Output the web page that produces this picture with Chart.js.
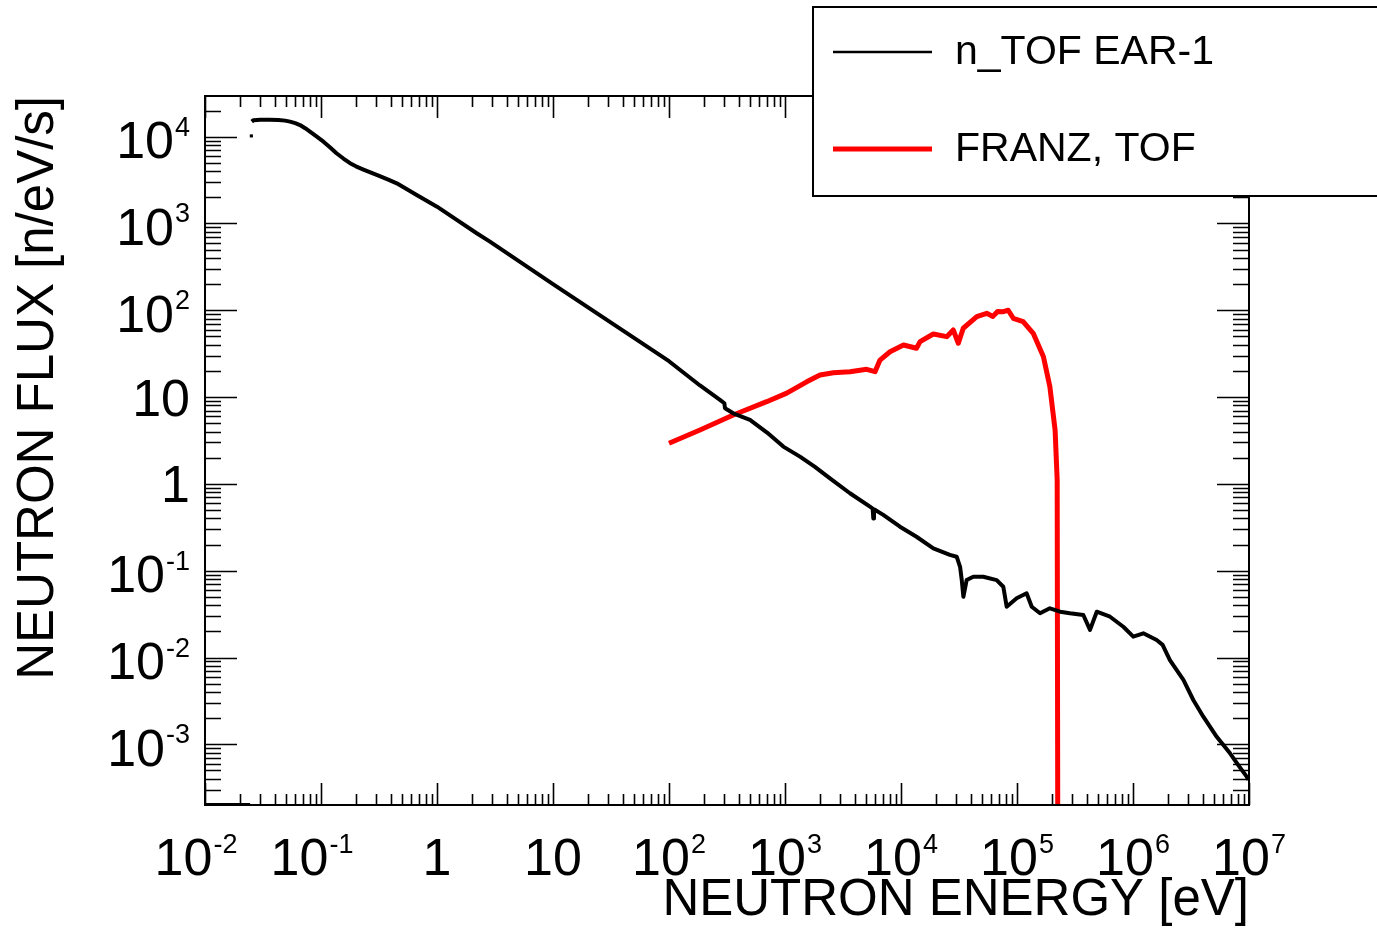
<!DOCTYPE html>
<html>
<head>
<meta charset="utf-8">
<script src="https://cdn.jsdelivr.net/npm/chart.js@4.4.1/dist/chart.umd.min.js"></script>
<style>
html,body{margin:0;padding:0;background:#fff;}
#wrap{width:1377px;height:932px;position:relative;}
</style>
</head>
<body>
<div id="wrap"><canvas id="c"></canvas></div>
<script>
// ---- data ----
const seriesNames = ['n_TOF EAR-1', 'FRANZ, TOF'];
const xAxisTitle = 'NEUTRON ENERGY [eV]';
const yAxisTitle = 'NEUTRON FLUX [n/eV/s]';

// n_TOF EAR-1 (null = gap in the measured points)
const ntofEnergy = [
  0.0101, 0.0245, 0.0248,
  0.0251, 0.0252,
  0.0253, 0.0262, 0.0300, 0.0360, 0.0429, 0.0490, 0.0541, 0.0600, 0.0659, 0.0730,
  0.0803, 0.092, 0.105, 0.120, 0.136, 0.156, 0.178, 0.200, 0.232, 0.302, 0.380,
  0.450, 0.560, 0.668, 1.0, 1.48, 2.20, 2.86, 10, 100, 185, 275, 300, 304, 358,
  499, 700, 967, 1346, 1800, 2443, 3630, 5400, 5700, 5770, 5850, 7030, 9800,
  13600, 19000, 26400, 30200, 32300, 33400, 34500, 36800, 42000, 51200, 66800,
  76200, 81500, 99300, 121000, 134000, 158000, 192000, 235000, 286000, 373000,
  426000, 487000, 634000, 825000, 1006000, 1227000, 1600000, 1800000, 2080000,
  2720000, 3310000, 4040000, 5270000, 6860000, 8200000, 9550000, 9900000
];
const ntofFlux = [
  2.0e-4, 2.0e-4, null,
  1.02e4, null,
  14900, 15500, 15700, 15700, 15600, 15300, 14900, 14300, 13600, 12500,
  11400, 10000, 8760, 7500, 6440, 5600, 4940, 4550, 4180, 3620, 3200,
  2900, 2450, 2130, 1560, 1100, 771, 617, 200, 25.9, 13.6, 9.3, 8.5, 7.43, 6.50,
  5.45, 3.9, 2.69, 2.06, 1.58, 1.16, 0.780, 0.546, 0.52, 0.40, 0.51, 0.44, 0.321,
  0.246, 0.181, 0.152, 0.145, 0.111, 0.078, 0.050, 0.078, 0.0853, 0.0853, 0.078,
  0.0654, 0.0385, 0.0481, 0.0549, 0.0385, 0.0323, 0.0369, 0.0337, 0.0323, 0.0309,
  0.0208, 0.0337, 0.0295, 0.0226, 0.0174, 0.0190, 0.0159, 0.0140, 0.00935,
  0.00551, 0.00324, 0.00208, 0.00122, 7.87e-4, 5.6e-4, 4.24e-4, 3.9e-4
];

// FRANZ, TOF
const franzEnergy = [
  100, 185, 358, 695, 1035, 1538, 2004, 2610, 3630, 5060, 5970, 6590, 8040,
  10500, 13600, 14600, 19000, 24800, 28200, 31200, 34400, 45000, 54800, 62000,
  68000, 76200, 84000, 92900, 113000, 138000, 169000, 192000, 213000, 222000, 226000
];
const franzFlux = [
  2.94, 4.18, 6.22, 8.85, 11.1, 15.0, 18.0, 19.1, 19.6, 20.9, 19.6, 26.7, 33.3,
  39.8, 36.5, 43.5, 53.3, 49.7, 59.3, 41.7, 62.1, 84.4, 92.3, 85,
  97, 96.4, 100, 80.9, 74.0, 54.3, 29.2, 13.2, 4.18, 1.11, 1e-6
];

// tick labels
const xTickValues = [1e-2, 1e-1, 1, 10, 1e2, 1e3, 1e4, 1e5, 1e6, 1e7];
const xTickLabels = ['10^-2', '10^-1', '1', '10', '10^2', '10^3', '10^4', '10^5', '10^6', '10^7'];
const yTickValues = [1e4, 1e3, 1e2, 10, 1, 1e-1, 1e-2, 1e-3];
const yTickLabels = ['10^4', '10^3', '10^2', '10', '1', '10^-1', '10^-2', '10^-3'];

// ---- drawing ----
const FONT = "'Liberation Sans', Arial, Helvetica, sans-serif";
const BASE_PX = 52, SUP_PX = 27;

function drawLabel(ctx, text, xPos, baseline, align) {
  const parts = text.split('^');
  const base = parts[0], sup = parts[1] || '';
  ctx.font = BASE_PX + 'px ' + FONT;
  const wb = ctx.measureText(base).width;
  ctx.font = SUP_PX + 'px ' + FONT;
  const ws = sup ? ctx.measureText(sup).width + 1 : 0;
  const total = wb + ws;
  let left;
  if (align === 'right') left = xPos - total;
  else left = xPos - total / 2 - (sup.startsWith('-') ? 9 : 0);
  ctx.textAlign = 'left';
  ctx.textBaseline = 'alphabetic';
  ctx.font = BASE_PX + 'px ' + FONT;
  ctx.fillText(base, left, baseline);
  if (sup) {
    ctx.font = SUP_PX + 'px ' + FONT;
    ctx.fillText(sup, left + wb + 1, baseline - 22.5);
  }
}

const framePlugin = {
  id: 'rootFrame',
  afterDatasetsDraw(chart) {
    const {ctx, chartArea: a, scales: {x, y}} = chart;
    ctx.save();
    ctx.strokeStyle = '#000';
    ctx.lineWidth = 2;
    ctx.strokeRect(a.left, a.top, a.right - a.left, a.bottom - a.top);
    ctx.beginPath();
    // x ticks (bottom up, top down)
    for (let d = -2; d <= 7; d++) {
      for (let m = 1; m <= 9; m++) {
        const v = m * Math.pow(10, d);
        if (v < x.min * 0.999 || v > x.max * 1.001) continue;
        const px = Math.round(x.getPixelForValue(v)) + 0.5;
        const len = m === 1 ? 22 : 11;
        ctx.moveTo(px, a.bottom); ctx.lineTo(px, a.bottom - len);
        ctx.moveTo(px, a.top); ctx.lineTo(px, a.top + len);
      }
    }
    // y ticks (left -> right, right -> left)
    for (let d = -4; d <= 4; d++) {
      for (let m = 1; m <= 9; m++) {
        const v = m * Math.pow(10, d);
        if (v < y.min * 1.001 || v > y.max * 0.999) continue;
        const py = Math.round(y.getPixelForValue(v)) + 0.5;
        const len = m === 1 ? 32 : 16;
        ctx.moveTo(a.left, py); ctx.lineTo(a.left + len, py);
        ctx.moveTo(a.right, py); ctx.lineTo(a.right - len, py);
      }
    }
    ctx.lineWidth = 1.6;
    ctx.stroke();

    // tick labels
    ctx.fillStyle = '#000';
    xTickValues.forEach((v, i) => {
      drawLabel(ctx, xTickLabels[i], x.getPixelForValue(v), 875, 'center');
    });
    yTickValues.forEach((v, i) => {
      const py = y.getPixelForValue(v);
      const hasSup = yTickLabels[i].includes('^');
      drawLabel(ctx, yTickLabels[i], 190, py + (hasSup ? 21.5 : 18.6), 'right');
    });
    ctx.restore();
  },
  afterDraw(chart) {
    // legend box (drawn over the frame, as in the reference)
    const ctx = chart.ctx;
    const ds = chart.data.datasets;
    ctx.save();
    ctx.fillStyle = '#fff';
    ctx.fillRect(813, 7, 600, 189);
    ctx.strokeStyle = '#000';
    ctx.lineWidth = 2;
    ctx.strokeRect(813, 7, 600, 189);
    const rows = [52, 149];
    ds.forEach((d, i) => {
      ctx.beginPath();
      ctx.strokeStyle = d.borderColor;
      ctx.lineWidth = i === 0 ? 2.5 : 5;
      ctx.moveTo(833, rows[i]); ctx.lineTo(932, rows[i]);
      ctx.stroke();
      ctx.fillStyle = '#000';
      ctx.font = '41px ' + FONT;
      ctx.textAlign = 'left';
      ctx.textBaseline = 'middle';
      ctx.fillText(d.label, 955, rows[i] + 1);
    });
    ctx.restore();
  }
};

const ntofPoints = ntofEnergy.map((e, i) => ({x: e, y: ntofFlux[i]}));
const franzPoints = franzEnergy.map((e, i) => ({x: e, y: franzFlux[i]}));

function isolated(i) {
  const f = ntofFlux;
  return f[i] !== null && (i === 0 || f[i - 1] === null) && (i === f.length - 1 || f[i + 1] === null);
}

new Chart(document.getElementById('c'), {
  type: 'scatter',
  data: {
    datasets: [
      {
        label: seriesNames[0],
        data: ntofPoints,
        showLine: true,
        borderColor: '#000000',
        backgroundColor: '#000000',
        borderWidth: 4,
        borderJoinStyle: 'round',
        pointStyle: 'rect',
        pointRadius: ctx => isolated(ctx.dataIndex) ? 2.2 : 0,
        pointBorderWidth: 0,
        spanGaps: false,
        tension: 0
      },
      {
        label: seriesNames[1],
        data: franzPoints,
        showLine: true,
        borderColor: '#ff0000',
        backgroundColor: '#ff0000',
        borderWidth: 5,
        borderJoinStyle: 'round',
        pointRadius: 0,
        tension: 0
      }
    ]
  },
  options: {
    responsive: true,
    maintainAspectRatio: false,
    animation: false,
    layout: {padding: {top: 96, right: 128, left: 0, bottom: 0}},
    plugins: {legend: {display: false}, tooltip: {enabled: false}},
    scales: {
      x: {
        type: 'logarithmic',
        position: 'bottom',
        min: 0.01,
        max: 1e7,
        grid: {display: false},
        border: {display: false},
        ticks: {display: false},
        title: {
          display: true, text: xAxisTitle, align: 'end', color: '#000',
          font: {family: FONT, size: 51}, padding: {top: 0, bottom: 0}
        },
        afterFit(s) { s.height = 127; }
      },
      y: {
        type: 'logarithmic',
        position: 'left',
        min: 2.0e-4,
        max: 2.94e4,
        grid: {display: false},
        border: {display: false},
        ticks: {display: false},
        title: {
          display: true, text: yAxisTitle, align: 'end', color: '#000',
          font: {family: FONT, size: 51}, padding: {top: 8, bottom: 0}
        },
        afterFit(s) { s.width = 205; }
      }
    }
  },
  plugins: [framePlugin]
});
</script>
</body>
</html>
